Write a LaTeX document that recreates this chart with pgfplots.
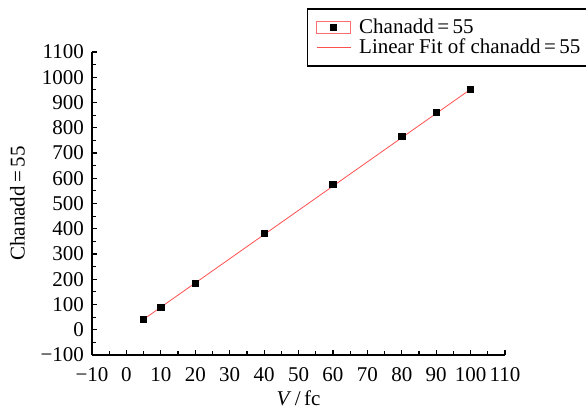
\documentclass[border=0pt]{standalone}
\usepackage{pgfplots}
\pgfplotsset{compat=1.18}
\usepackage{fontspec}
\setmainfont{Liberation Serif}
\begin{document}
\begin{tikzpicture}
  \begin{axis}[
    scale only axis,
    width=206.5pt, height=151.5pt,
    xmin=-10, xmax=110, ymin=-100, ymax=1100,
    axis x line*=bottom, axis y line*=left,
    axis line style={line width=0.7pt},
    xtick={-10,0,...,110},
    xticklabels={−10,0,10,20,30,40,50,60,70,80,90,100,110},
    ytick={-100,0,...,1100},
    yticklabels={−100,0,100,200,300,400,500,600,700,800,900,1000,1100},
    minor x tick num=1, minor y tick num=1,
    tick align=inside,
    major tick length=2.5pt, minor tick length=1.8pt,
    tick style={black, line width=0.6pt},
    tick label style={font=\fontsize{10.5}{12}\selectfont},
    label style={font=\fontsize{10.5}{12}\selectfont},
    xlabel={\textit{V}\,/\,fc},
    ylabel={Chanadd\,=\,55},
    xticklabel style={yshift=-2.5pt},
    yticklabel style={xshift=-0.5pt},
    xlabel style={yshift=2pt},
    ylabel style={yshift=1pt},
    legend style={
      at={(rel axis cs:0.52,1.145)}, anchor=north west,
      draw=black, line width=0.8pt,
      font=\fontsize{10.5}{10.5}\selectfont,
      cells={anchor=west},
      inner xsep=1.5pt, inner ysep=3pt, row sep=-3pt, column sep=2pt,
    },
  ]
    \addplot[only marks, mark=square*, mark size=1.6pt, black,
      legend image code/.code={
        \draw[draw={rgb,255:red,255;green,110;blue,110}, line width=0.4pt, fill=white] (3pt,-3pt) rectangle (20pt,3pt);
        \fill[black] (10pt,-1.5pt) rectangle (13pt,1.5pt);
        \path[draw=none, fill=none] (0pt,0pt) -- (1pt,0pt);
      }]
      coordinates {(5,42) (10,88) (20,183) (40,381) (60,576) (80,766) (90,860) (100,953)};
    \addlegendentry{Chanadd\,=\,55}
    \addplot[no marks, color={rgb,255:red,255;green,80;blue,80}, line width=0.4pt,
      legend image code/.code={
        \draw[draw={rgb,255:red,255;green,80;blue,80}, line width=0.6pt] (3pt,0pt) -- (20pt,0pt);
        \path[draw=none, fill=none] (0pt,0pt) -- (1pt,0pt);
      }]
      coordinates {(5,41.5) (100,952.5)};
    \addlegendentry{Linear Fit of chanadd\,=\,55\rule{6pt}{0pt}}
    \coordinate (bbl) at (rel axis cs:-0.2228,-0.1947);
    \coordinate (bbr) at (rel axis cs:1.196,1.1716);
  \end{axis}
  \pgfresetboundingbox
  \useasboundingbox (bbl) rectangle (bbr);
\end{tikzpicture}
\end{document}
